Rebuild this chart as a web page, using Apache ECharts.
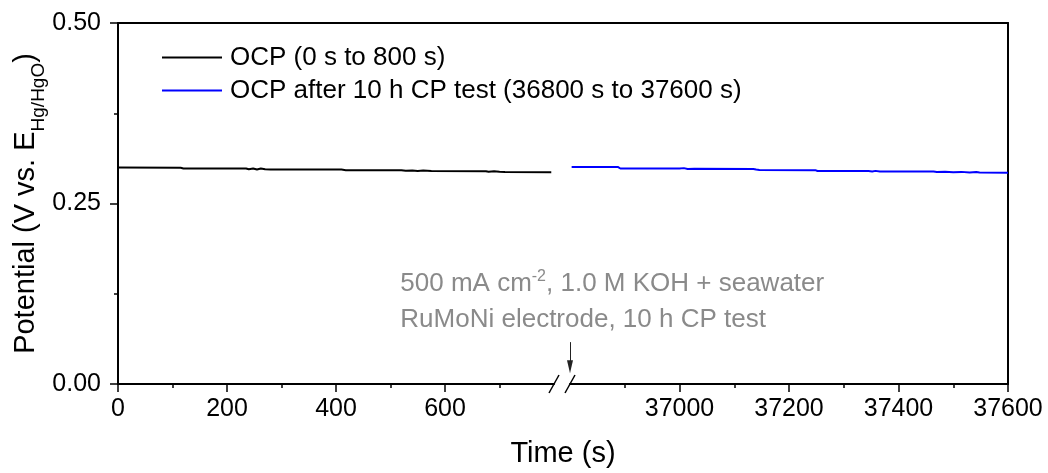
<!DOCTYPE html>
<html>
<head>
<meta charset="utf-8">
<script src="https://cdn.jsdelivr.net/npm/echarts@6/dist/echarts.min.js"></script>
<style>
html,body{margin:0;padding:0;background:#fff;}
#chart{width:1048px;height:473px;}
</style>
</head>
<body>
<div id="chart"></div>
<script>
// ---- data ----
const seriesNames = ['OCP (0 s to 800 s)', 'OCP after 10 h CP test (36800 s to 37600 s)'];
const timeBefore = [0, 115, 120, 235, 240, 248, 255, 262, 270, 280, 410, 418, 520, 528, 540, 550, 560, 575, 675, 680, 690, 700, 710, 795];
const potBefore  = [0.2998, 0.2996, 0.2985, 0.2984, 0.2975, 0.2986, 0.2972, 0.2984, 0.2973, 0.2971, 0.2970, 0.2962, 0.2960, 0.2952, 0.2958, 0.2950, 0.2956, 0.2950, 0.2948, 0.2940, 0.2946, 0.2939, 0.2938, 0.2932];
const timeAfter = [36803, 36888, 36892, 37000, 37008, 37015, 37027, 37135, 37140, 37146, 37248, 37252, 37345, 37352, 37358, 37366, 37464, 37470, 37485, 37500, 37515, 37530, 37542, 37548, 37600];
const potAfter  = [0.3005, 0.3004, 0.2985, 0.2984, 0.2990, 0.2978, 0.2980, 0.2978, 0.2970, 0.2963, 0.2962, 0.2950, 0.2949, 0.2944, 0.2952, 0.2943, 0.2943, 0.2935, 0.2940, 0.2932, 0.2938, 0.2931, 0.2936, 0.2928, 0.2927];
const xTicksLeft = [0, 200, 400, 600];
const xTicksRight = [37000, 37200, 37400, 37600];
const breakBefore = 800;
const breakAfter = 36800;
const arrowFrom = 0.058;
const arrowTo = 0.024;
const noteLine1 = ['500 mA cm', '-2', ', 1.0 M KOH + seawater'];
const noteLine2 = 'RuMoNi electrode, 10 h CP test';

const FONT = "'Liberation Sans', Arial, sans-serif";
const chart = echarts.init(document.getElementById('chart'), null, {renderer: 'canvas'});

const axisLine = {show: true, onZero: false, lineStyle: {color: '#000', width: 2}};
const tickStyle = {show: true, inside: false, length: 8, lineStyle: {color: '#000', width: 1.5}};
const minorStyle = {show: true, splitNumber: 2, length: 4, lineStyle: {color: '#000', width: 1.5}};
const labelStyle = {color: '#000', fontSize: 25, fontFamily: FONT, margin: 13, formatter: v => String(v)};

const option = {
  animation: false,
  backgroundColor: '#fff',
  grid: [
    {left: 118, top: 23, width: 436, height: 361},
    {left: 570, top: 23, width: 438, height: 361},
    {left: 118, top: 23, width: 890, height: 361}
  ],
  legend: {
    orient: 'vertical', left: 162, top: 41, itemGap: 0, padding: 0,
    icon: 'rect', itemWidth: 60, itemHeight: 2,
    textStyle: {fontSize: 26, fontFamily: FONT, color: '#000', lineHeight: 33, padding: [0, 0, 0, 3]},
    data: seriesNames
  },
  xAxis: [
    {gridIndex: 0, type: 'value', min: 0, max: breakBefore, interval: 200,
     axisLine: axisLine, axisTick: Object.assign({customValues: xTicksLeft}, tickStyle),
     minorTick: minorStyle, splitLine: {show: false},
     axisLabel: Object.assign({customValues: xTicksLeft}, labelStyle)},
    {gridIndex: 1, type: 'value', min: breakAfter, max: 37600, interval: 200,
     axisLine: axisLine, axisTick: Object.assign({customValues: xTicksRight}, tickStyle),
     minorTick: minorStyle, splitLine: {show: false},
     axisLabel: Object.assign({customValues: xTicksRight}, labelStyle)},
    {gridIndex: 2, type: 'value', position: 'top', min: 0, max: 1,
     axisLine: axisLine, axisTick: {show: false}, axisLabel: {show: false}, splitLine: {show: false}},
    {gridIndex: 2, type: 'value', position: 'bottom', min: 0, max: 1,
     axisLine: {show: false, onZero: false}, axisTick: {show: false}, axisLabel: {show: false}, splitLine: {show: false},
     name: 'Time (s)', nameLocation: 'middle', nameGap: 58,
     nameTextStyle: {fontSize: 29, fontFamily: FONT, color: '#000'}}
  ],
  yAxis: [
    {gridIndex: 0, type: 'value', min: 0, max: 0.5, interval: 0.25,
     axisLine: axisLine, axisTick: tickStyle, minorTick: minorStyle, splitLine: {show: false},
     axisLabel: Object.assign({}, labelStyle, {margin: 17, formatter: v => v.toFixed(2)}),
     name: '{m|Potential (V vs. E}{s|Hg/HgO}{m|)}', nameLocation: 'middle', nameGap: 74, nameRotate: 90,
     nameTextStyle: {
       fontFamily: FONT, color: '#000',
       rich: {
         m: {fontSize: 29, fontFamily: FONT, color: '#000', verticalAlign: 'bottom', lineHeight: 36},
         s: {fontSize: 19, fontFamily: FONT, color: '#000', verticalAlign: 'bottom', lineHeight: 36, padding: [0, 0, -8, 0]}
       }
     }},
    {gridIndex: 1, type: 'value', position: 'right', min: 0, max: 0.5,
     axisLine: axisLine, axisTick: {show: false}, axisLabel: {show: false}, splitLine: {show: false}},
    {gridIndex: 2, type: 'value', min: 0, max: 1, show: false}
  ],
  series: [
    {name: seriesNames[0], type: 'line', xAxisIndex: 0, yAxisIndex: 0,
     data: timeBefore.map((t, i) => [t, potBefore[i]]),
     showSymbol: false, symbol: 'none', clip: false,
     lineStyle: {color: '#000', width: 2}, itemStyle: {color: '#000'}},
    {name: seriesNames[1], type: 'line', xAxisIndex: 1, yAxisIndex: 1,
     data: timeAfter.map((t, i) => [t, potAfter[i]]),
     showSymbol: false, symbol: 'none', clip: false,
     lineStyle: {color: '#0000ff', width: 2}, itemStyle: {color: '#0000ff'},
     markLine: {silent: true, animation: false, label: {show: false},
       data: [
         [{coord: [breakAfter, arrowFrom], symbol: 'none', lineStyle: {color: '#222', width: 1, type: 'solid'}},
          {coord: [breakAfter, arrowTo], symbol: 'triangle', symbolSize: [6, 13], symbolRotate: 180, lineStyle: {color: '#222', width: 1, type: 'solid'}}]
       ]}}
  ]
};
chart.setOption(option);

// axis-break marks and annotation, placed from the axes' own scales
const pL = chart.convertToPixel({xAxisIndex: 0, yAxisIndex: 0}, [breakBefore, 0]);
const pR = chart.convertToPixel({xAxisIndex: 1, yAxisIndex: 1}, [breakAfter, 0]);
const pNote = chart.convertToPixel({xAxisIndex: 0, yAxisIndex: 0}, [518, 0.164]);
function slashShape(p) {
  return {type: 'line', shape: {x1: p[0] - 5, y1: p[1] + 9, x2: p[0] + 5, y2: p[1] - 9},
          style: {stroke: '#000', lineWidth: 1.5}, z: 10};
}
chart.setOption({
  graphic: [
    slashShape(pL), slashShape(pR),
    {type: 'text', x: pNote[0], y: pNote[1],
     style: {
       text: '{g|' + noteLine1[0] + '}{sup|' + noteLine1[1] + '}{g|' + noteLine1[2] + '}\n{g|' + noteLine2 + '}',
       rich: {
         g: {fontSize: 26, fontFamily: FONT, fill: '#8a8a8a', lineHeight: 36},
         sup: {fontSize: 16, fontFamily: FONT, fill: '#8a8a8a', lineHeight: 36, padding: [0, 0, 14, 0]}
       }
     }}
  ]
});
</script>
</body>
</html>
